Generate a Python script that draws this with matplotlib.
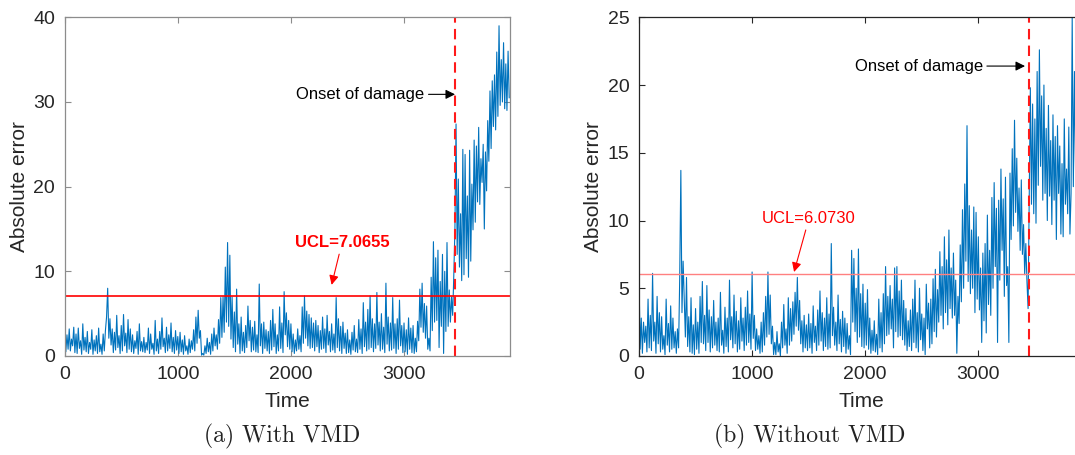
import matplotlib
matplotlib.use("Agg")
import matplotlib.pyplot as plt
import numpy as np

# ---------------- data (sampled every 10 time units) ----------------
step = 10
err_vmd = [
    4.7,0.5,2.5,0.8,3.2,0.6,2.0,1.2,3.4,0.4,
    2.6,0.3,3.3,0.9,1.8,0.2,3.8,0.7,2.2,0.5,
    2.9,0.3,1.6,0.8,3.1,0.2,1.9,0.6,2.4,0.3,
    3.3,0.5,1.4,0.2,2.6,0.6,3.0,4.6,8.0,2.1,
    4.4,1.3,3.2,0.4,2.8,0.7,4.8,1.0,2.4,0.3,
    3.6,0.6,4.9,1.2,2.7,0.4,4.3,0.8,3.2,0.5,
    2.5,0.3,1.8,0.9,2.9,0.2,3.8,0.6,1.7,0.5,
    2.2,0.4,1.6,0.7,3.3,0.3,2.6,0.8,1.5,0.2,
    4.2,0.6,2.0,0.3,2.9,0.8,4.5,1.1,2.1,0.4,
    3.4,0.6,2.5,0.9,3.9,0.5,2.2,0.3,3.0,0.7,
    2.3,0.3,2.8,0.5,1.9,0.2,2.4,0.6,1.2,0.2,
    2.0,0.4,1.8,0.8,3.1,0.6,4.6,1.5,5.4,2.1,
    3.0,0.1,0.3,0.1,1.2,0.3,2.1,0.5,1.6,0.2,
    2.6,0.6,3.3,1.2,2.5,0.8,4.3,1.5,6.9,2.2,
    7.0,2.8,10.5,4.0,13.4,3.5,11.9,2.0,7.0,1.0,
    5.2,0.5,7.9,1.4,3.8,0.3,4.6,0.6,2.8,0.4,
    3.6,1.0,5.9,1.8,4.2,0.5,3.4,0.7,4.1,0.5,
    2.5,0.4,8.5,1.2,3.8,0.3,4.0,0.9,3.1,0.6,
    2.9,0.3,4.2,0.7,5.5,1.1,3.8,0.3,2.5,0.6,
    5.8,0.9,3.9,0.4,7.6,2.5,5.1,1.1,4.2,0.8,
    3.8,0.5,2.6,0.3,1.9,0.6,3.2,0.8,2.4,0.5,
    5.8,1.5,7.1,2.1,5.3,1.2,4.9,0.9,4.5,1.0,
    3.9,0.6,4.2,1.1,3.6,0.4,3.0,0.8,4.6,0.9,
    3.2,0.4,4.8,1.3,2.9,0.5,3.8,0.7,2.6,0.4,
    6.9,1.0,4.4,0.6,3.5,0.3,4.0,0.9,2.7,0.3,
    3.1,0.4,1.9,0.2,2.8,0.7,3.6,0.5,2.0,0.4,
    4.3,0.8,3.2,0.3,6.3,1.1,4.0,0.6,5.5,0.8,
    7.1,1.0,4.4,0.5,3.8,0.9,7.5,1.3,4.0,0.6,
    5.0,0.8,3.4,0.4,8.6,1.4,4.6,0.6,3.9,0.7,
    6.9,0.9,3.8,0.3,4.4,0.8,6.6,1.2,3.6,0.4,
    3.9,0.5,3.1,0.2,4.5,0.8,3.3,0.4,3.6,0.3,
    2.1,0.5,4.1,1.8,7.9,3.4,8.6,2.8,6.2,2.1,
    5.9,0.8,2.1,0.6,9.3,3.0,13.5,4.0,11.6,4.2,
    12.5,1.0,8.8,3.5,12.0,0.3,10.0,2.9,13.4,3.5,
    7.8,4.0,7.0,4.8,9.5,15.0,27.4,12.0,20.9,10.5,
    16.8,8.9,24.4,9.6,23.8,11.5,18.9,9.3,24.3,11.2,
    20.3,14.9,25.5,15.8,24.8,18.2,27.0,17.9,23.3,20.5,
    25.0,15.0,24.1,19.5,27.8,23.0,31.3,24.5,32.5,27.1,
    33.2,26.7,35.9,28.3,39.0,29.6,35.0,30.0,37.0,29.2,
    34.5,29.0,36.0,30.5,
]
err_novmd = [
    6.0,0.5,2.8,0.2,2.5,1.0,2.2,0.3,4.2,0.6,
    3.0,0.4,6.1,1.1,2.5,0.2,4.4,0.9,3.2,0.3,
    2.9,0.5,1.5,0.1,4.2,0.8,2.4,0.3,3.7,0.5,
    2.8,0.6,1.8,0.2,2.0,0.6,5.8,13.7,3.2,7.0,
    4.1,1.4,5.8,0.7,2.9,0.3,4.3,0.2,2.3,0.1,
    3.5,0.5,2.5,0.2,4.4,1.0,5.5,0.9,3.0,0.4,
    5.2,1.0,3.4,0.3,2.9,0.6,4.1,0.8,2.5,0.4,
    2.8,0.3,4.7,0.8,1.9,0.2,3.6,0.7,2.8,0.3,
    5.6,1.2,2.9,0.6,4.5,0.9,3.3,0.3,2.6,0.5,
    4.3,1.1,2.8,0.4,3.6,0.8,4.8,1.0,3.1,0.5,
    6.2,1.3,3.0,0.4,2.0,0.5,1.5,0.2,2.5,0.3,
    3.2,0.8,4.4,1.4,6.2,1.6,4.5,0.9,2.2,0.1,
    1.0,0.1,1.8,0.3,0.9,0.0,2.5,0.6,3.8,0.8,
    2.0,0.2,4.3,0.8,3.5,1.1,4.0,1.6,4.7,2.2,
    5.8,1.9,4.1,0.9,2.6,0.3,3.0,0.6,2.3,0.4,
    3.1,0.6,2.4,0.2,3.7,1.0,2.2,0.4,3.4,0.8,
    4.8,1.1,3.2,0.4,2.8,0.7,4.3,0.5,3.1,0.6,
    8.3,1.5,3.6,0.8,2.5,0.4,4.5,0.9,2.7,0.3,
    3.3,0.7,2.8,0.2,2.4,0.5,1.5,0.1,7.8,2.5,
    7.2,1.8,5.0,1.0,7.9,1.4,4.6,0.7,5.3,0.6,
    3.9,0.8,4.9,0.5,2.8,0.2,1.9,0.4,2.6,0.3,
    1.6,0.1,4.2,0.6,3.2,0.3,4.6,0.9,6.6,1.5,
    4.4,1.6,5.2,2.0,4.2,0.6,6.5,1.8,6.6,1.4,
    4.8,1.5,5.6,1.2,4.1,0.8,3.5,0.4,2.6,0.7,
    3.4,0.4,4.2,1.0,5.6,0.6,3.2,0.3,5.0,1.2,
    3.1,0.4,2.8,0.1,5.3,2.0,3.9,0.6,4.2,0.9,
    5.7,1.8,6.4,1.4,4.9,2.5,7.7,3.0,6.6,2.0,
    8.8,3.2,7.1,2.3,9.3,3.5,6.5,2.8,7.6,3.0,
    5.6,0.2,4.4,2.4,8.2,4.0,10.8,5.0,12.7,7.0,
    17.0,5.5,11.1,4.6,9.3,5.0,11.0,3.2,10.6,4.2,
    8.8,3.4,6.5,1.0,7.6,2.6,8.3,1.7,10.4,3.8,
    7.8,3.0,11.7,5.0,12.8,6.6,10.9,1.0,11.5,5.6,
    13.8,7.8,11.6,4.4,13.2,5.2,6.6,1.0,13.5,8.6,
    15.3,9.6,17.4,10.6,14.6,9.2,12.4,7.8,13.0,7.5,
    9.7,6.0,8.3,5.5,3.5,12.0,19.8,11.2,18.6,10.5,
    17.5,9.8,21.0,12.6,22.6,14.0,19.2,11.5,20.0,12.0,
    16.8,10.0,18.5,11.8,15.9,9.7,17.8,11.5,16.2,8.6,
    17.0,12.0,15.5,9.0,14.2,8.8,17.5,11.2,13.8,10.5,
    16.9,9.0,12.0,25.0,12.5,21.0,13.5,18.0,12.0,16.5,
    14.0,11.0,15.0,12.5,
]
ucl_vmd = 7.0655
ucl_novmd = 6.0730
onset = 3451
x_max = 3937
xticks = [0, 1000, 2000, 3000]
yticks_a = [0, 10, 20, 30, 40]
yticks_b = [0, 5, 10, 15, 20, 25]
captions = ["(a) With VMD", "(b) Without VMD"]

t_a = np.arange(len(err_vmd)) * step
t_b = np.arange(len(err_novmd)) * step

W, H = 1075, 455
fig = plt.figure(figsize=(W / 100, H / 100), dpi=100)
plt.rcParams['font.family'] = ['Liberation Sans', 'DejaVu Sans']

blue = '#0072BD'
txtc = '#262626'

def setup(ax, yticks, ylim, spine_color):
    ax.set_xlim(0, x_max)
    ax.set_ylim(*ylim)
    ax.set_xticks(xticks)
    ax.set_yticks(yticks)
    ax.tick_params(direction='in', length=4, width=0.8, labelsize=14, pad=7,
                   colors=spine_color, labelcolor=txtc, top=True, right=True)
    for s in ax.spines.values():
        s.set_color(spine_color)
        s.set_linewidth(0.9)
    ax.set_xlabel('Time', fontsize=15, color=txtc, labelpad=7)
    ax.set_ylabel('Absolute error', fontsize=15, color=txtc, labelpad=3)

# ---- panel (a)
ax1 = fig.add_axes([64.7 / W, (H - 356) / H, (510 - 64.7) / W, (356 - 17.3) / H])
ax1.plot(t_a, err_vmd, color=blue, lw=0.8)
ax1.axhline(ucl_vmd, color='#ff0000', lw=1.2)
ax1.axvline(onset, color='#ff1a1a', lw=1.5, ls=(0, (5, 3)))
setup(ax1, yticks_a, (0, 40), '#8c8c8c')
ax1.annotate('UCL=7.0655', xy=(2360, 8.4), xytext=(2452, 13.4),
             color='#ff0000', fontsize=12, fontweight='bold', ha='center', va='center',
             arrowprops=dict(arrowstyle='-|>', color='#ff0000', lw=0.8,
                             mutation_scale=14, shrinkA=1, shrinkB=0))
ax1.annotate('Onset of damage', xy=(onset, 30.9), xytext=(3180, 30.9),
             color='black', fontsize=12, ha='right', va='center',
             arrowprops=dict(arrowstyle='-|>', color='black', lw=0.8,
                             mutation_scale=14, shrinkA=1, shrinkB=0))

# ---- panel (b)
ax2 = fig.add_axes([639 / W, (H - 356) / H, (510 - 64.7) / W, (356 - 17.3) / H])
ax2.plot(t_b, err_novmd, color=blue, lw=0.8)
ax2.axhline(ucl_novmd, color='#ff8080', lw=1.0)
ax2.axvline(onset, color='#ff1a1a', lw=1.5, ls=(0, (5, 3)))
setup(ax2, yticks_b, (0, 25), '#262626')
ax2.annotate('UCL=6.0730', xy=(1371, 6.2), xytext=(1503, 10.16),
             color='#ff0000', fontsize=12, ha='center', va='center',
             arrowprops=dict(arrowstyle='-|>', color='#ff0000', lw=0.8,
                             mutation_scale=14, shrinkA=1, shrinkB=0))
ax2.annotate('Onset of damage', xy=(3413, 21.4), xytext=(3039, 21.4),
             color='black', fontsize=12, ha='right', va='center',
             arrowprops=dict(arrowstyle='-|>', color='black', lw=0.8,
                             mutation_scale=14, shrinkA=1, shrinkB=0))

# captions
fig.text(282 / W, 1 - 436 / H, captions[0], family='cmr10', fontsize=17,
         ha='center', va='center', color='#222222')
fig.text(810 / W, 1 - 436 / H, captions[1], family='cmr10', fontsize=17,
         ha='center', va='center', color='#222222')

fig.savefig('out.png', dpi=100)
